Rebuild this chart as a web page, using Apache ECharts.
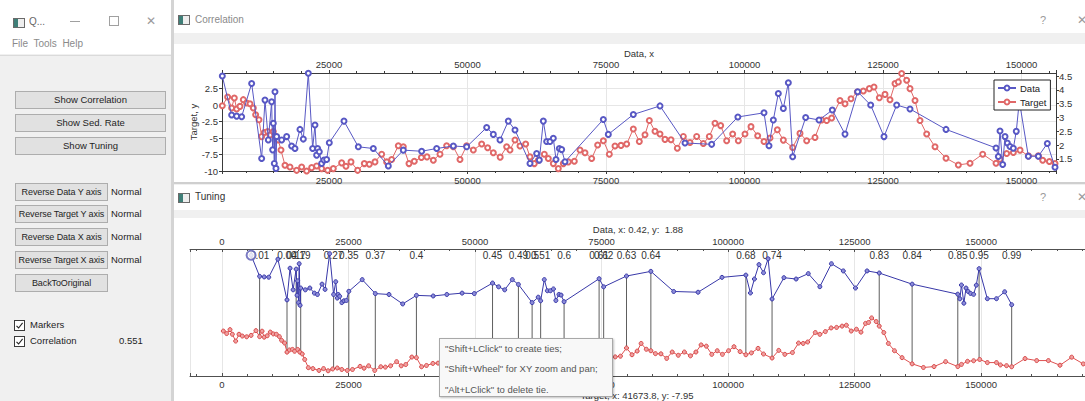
<!DOCTYPE html>
<html>
<head>
<meta charset="utf-8">
<title>Correlation / Tuning</title>
<script src="https://cdn.jsdelivr.net/npm/echarts@6.0.0/dist/echarts.min.js"></script>
<style>
  html, body { margin:0; padding:0; }
  body { width:1085px; height:401px; overflow:hidden; position:relative; background:#f0f0f0;
         font-family:"Liberation Sans", Arial, sans-serif; color:#1e1e1e; }
  .a { position:absolute; }
  .white { position:absolute; background:#fff; }
  .btn { position:absolute; box-sizing:border-box; background:#e1e1e1; border:1px solid #adadad;
         font-size:9.5px; text-align:center; color:#1e1e1e; white-space:nowrap; overflow:hidden; }
  .btn.narrow { font-size:9px; letter-spacing:-0.1px; }
  .lbl { position:absolute; font-size:9.5px; color:#1e1e1e; white-space:nowrap; line-height:12px; }
  .icon { position:absolute; width:10px; height:8px; border:1px solid #6a6a6a;
          background:linear-gradient(to right,#3f7f78 0,#3f7f78 45%,#eeeeee 45%); }
  .chk { position:absolute; width:9px; height:9px; border:1px solid #3a3a3a; background:#fff; }
  .chk svg { position:absolute; left:0; top:0; }
  .ctl { position:absolute; color:#9a9a9a; font-size:11px; line-height:12px; }
  #chart { position:absolute; left:0; top:0; width:1085px; height:401px; }
  #hint { position:absolute; left:439px; top:338px; width:174px; height:59px; box-sizing:border-box;
          background:#f8f8f8; border:1px solid #a8a8a8; box-shadow:1px 1px 2px rgba(0,0,0,0.25);
          font-size:9.5px; color:#555; z-index:5; }
  #hint div { position:absolute; left:5px; white-space:nowrap; line-height:12px; }
</style>
</head>
<body>

<!-- main window: title bar and menu -->
<div class="white" style="left:0;top:0;width:171px;height:54px;"></div>
<div class="icon" style="left:13px;top:18px;"></div>
<div class="lbl" style="left:29px;top:16px;color:#666;font-size:10px;">Q...</div>
<div class="a" style="left:70px;top:21px;width:10px;height:1px;background:#a0a0a0;"></div>
<div class="a" style="left:109px;top:16px;width:8px;height:8px;border:1px solid #a0a0a0;"></div>
<div class="ctl" style="left:146px;top:15px;font-size:12px;">✕</div>
<div class="lbl" style="left:12px;top:38px;color:#8a8a8a;font-size:10px;">File&nbsp; Tools&nbsp; Help</div>
<div class="a" style="left:0;top:55px;width:171px;height:1px;background:#dadada;"></div>

<!-- control panel -->
<div class="btn" style="left:15px;top:91px;width:151px;height:18px;line-height:16px;">Show Correlation</div>
<div class="btn" style="left:15px;top:114px;width:151px;height:18px;line-height:16px;">Show Sed. Rate</div>
<div class="btn" style="left:15px;top:137px;width:151px;height:18px;line-height:16px;">Show Tuning</div>

<div class="btn narrow" style="left:15px;top:183px;width:93px;height:18px;line-height:16px;">Reverse Data Y axis</div>
<div class="lbl" style="left:111px;top:186px;">Normal</div>
<div class="btn narrow" style="left:15px;top:205px;width:93px;height:18px;line-height:16px;">Reverse Target Y axis</div>
<div class="lbl" style="left:111px;top:208px;">Normal</div>
<div class="btn narrow" style="left:15px;top:228px;width:93px;height:18px;line-height:16px;">Reverse Data X axis</div>
<div class="lbl" style="left:111px;top:231px;">Normal</div>
<div class="btn narrow" style="left:15px;top:251px;width:93px;height:18px;line-height:16px;">Reverse Target X axis</div>
<div class="lbl" style="left:111px;top:254px;">Normal</div>
<div class="btn narrow" style="left:15px;top:274px;width:93px;height:18px;line-height:16px;">BackToOriginal</div>

<div class="chk" style="left:14px;top:320px;"><svg width="9" height="9"><path d="M1.5 4.8 L3.6 7 L7.6 1.8" fill="none" stroke="#222" stroke-width="1.1"/></svg></div>
<div class="lbl" style="left:30px;top:319px;">Markers</div>
<div class="chk" style="left:14px;top:336px;"><svg width="9" height="9"><path d="M1.5 4.8 L3.6 7 L7.6 1.8" fill="none" stroke="#222" stroke-width="1.1"/></svg></div>
<div class="lbl" style="left:30px;top:335px;">Correlation</div>
<div class="lbl" style="left:119px;top:335px;">0.551</div>

<!-- divider between panel and plot windows -->
<div class="a" style="left:171px;top:0;width:3px;height:401px;background:#d4d4d4;"></div>

<!-- Correlation window -->
<div class="white" style="left:174px;top:0;width:911px;height:33px;"></div>
<div class="icon" style="left:178px;top:15px;"></div>
<div class="lbl" style="left:195px;top:14px;color:#8a8a8a;font-size:10px;">Correlation</div>
<div class="ctl" style="left:1040px;top:14px;">?</div>
<div class="ctl" style="left:1077px;top:14px;font-size:12px;">✕</div>
<div class="white" style="left:174px;top:44px;width:911px;height:138px;"></div>
<div class="a" style="left:174px;top:182px;width:911px;height:2px;background:#cfcfcf;"></div>

<!-- Tuning window -->
<div class="white" style="left:174px;top:185px;width:911px;height:25px;"></div>
<div class="icon" style="left:178px;top:193px;"></div>
<div class="lbl" style="left:195px;top:191px;color:#333;font-size:10px;">Tuning</div>
<div class="ctl" style="left:1040px;top:191px;">?</div>
<div class="ctl" style="left:1077px;top:191px;font-size:12px;">✕</div>
<div class="white" style="left:174px;top:218px;width:911px;height:183px;"></div>

<div id="chart"></div>

<div id="hint">
  <div style="top:4px;">"Shift+LClick" to create ties;</div>
  <div style="top:24px;">"Shift+Wheel" for XY zoom and pan;</div>
  <div style="top:45px;">"Alt+LClick" to delete tie.</div>
</div>

<script>
// ---- core sample (Data) ----
const dataX = [5746, 7431, 8333, 9236, 11041, 12846, 13447, 14050, 14651, 14832, 14951, 15132, 15252,
  15432, 15553, 16456, 17358, 18261, 18862, 19765, 20366, 21269, 22051, 22472, 22773, 22953, 23254,
  23676, 24097, 24578, 25059, 27707, 30294, 33001, 35709, 38416, 41726, 44434, 47442, 49849, 53459,
  54662, 55865, 57369, 58572, 61280, 62483, 62964, 63686, 64288, 64890, 65491, 65973, 66574, 66996,
  67597, 74516, 75418, 79931, 84745, 89257, 94071, 98800, 103517, 104419, 105201, 106103, 107006,
  107909, 108691, 111036, 113444, 115851, 118137, 120424, 122771, 125177, 127464, 129870, 136368,
  145393, 145814, 146115, 146597, 147017, 147438, 147920, 148521, 149050, 149600, 151228, 153034,
  154655, 156042];
const dataY = [4.50, 3.09, 3.05, 3.03, 4.23, 1.52, 3.63, 2.19, 3.57, 1.83, 2.79, 1.34, 3.93,
  1.16, 2.31, 2.19, 2.31, 1.97, 1.88, 2.57, 2.22, 4.60, 1.88, 2.73, 1.64, 1.88, 1.76,
  1.34, 1.46, 1.48, 2.09, 2.87, 1.94, 1.88, 1.25, 1.82, 1.78, 1.88, 1.97, 1.94, 2.64,
  2.39, 2.19, 2.87, 2.55, 1.34, 1.70, 1.46, 2.87, 2.13, 2.13, 2.25, 1.48, 1.88, 1.84,
  1.40, 2.93, 2.39, 3.11, 3.42, 2.08, 2.03, 3.02, 3.17, 1.98, 2.91, 3.87, 3.33,
  4.26, 1.58, 3.00, 2.91, 3.27, 2.40, 3.93, 3.45, 2.31, 3.45, 3.31, 2.57,
  1.90, 1.59, 2.51, 1.30, 2.31, 2.08, 1.95, 1.89, 2.50, 3.60, 1.60, 1.60,
  2.06, 1.20];

// ---- reference record (Target) ----
const targetX = [260, 922, 1581, 2042, 2701, 3360, 4019, 4876, 5746, 6708, 7431, 7913, 8333, 8935,
  9537, 10139, 10740, 11342, 11763, 12365, 12846, 13328, 13929, 14350, 14952, 15373, 15854, 16336,
  17058, 17960, 19163, 20066, 20968, 21871, 22773, 23676, 24759, 25781, 27286, 28068, 28970, 30174,
  31377, 32280, 33302, 34506, 35408, 36311, 37514, 38416, 39439, 40402, 41673.8, 42688, 43831, 45034,
  46238, 47441, 48645, 49848, 51052, 52556, 53639, 54662, 55900, 57069, 57670, 58573, 59475, 60498,
  61280, 62062, 62784, 63867, 64589, 65491, 66394, 67297, 68199, 69282, 70305, 71208, 72411, 73494,
  74517, 75600, 76623, 77706, 78729, 79931, 81014, 82037, 82819, 83842, 84745, 85647, 86730, 87873,
  88956, 90159, 91363, 92566, 93649, 94672, 95695, 96778, 97861, 98884, 100087, 101170, 102374,
  103517, 104600, 105924, 107006, 108691, 110014, 111217, 112722, 113925, 114828, 115730, 117234,
  118137, 119220, 120363, 121446, 122529, 123371, 124334, 125357, 126259, 127162, 127764, 128365,
  129268, 129870, 130773, 131675, 132879, 134383, 136369, 138595, 140701, 142988, 145395, 146117,
  147320, 148524, 149727, 151231, 153036, 153818, 155022, 156045, 158680, 160985, 163290, 165590,
  167900, 170190];
const targetY = [1.1, 0.4, 1.5, 0.2, -1.7, 0.2, -0.3, -0.5, -0.11, 1.22, -0.46, 1.07, -0.61, -0.21,
  0.81, 0.30, 0.20, -0.46, -1.48, -2.24, -4.79, -4.18, -4.03, -4.54, -4.03, -4.79, -5.30, -6.83,
  -9.13, -9.39, -9.90, -9.39, -10.0, -9.49, -9.23, -9.64, -9.90, -9.64, -8.77, -9.28, -8.62, -9.90,
  -8.88, -8.98, -8.62, -7.45, -8.62, -8.26, -6.17, -6.33, -8.88, -8.52, -7.95, -7.86, -8.37, -7.45,
  -6.17, -6.33, -8.26, -6.17, -6.83, -5.92, -6.48, -7.24, -7.90, -6.33, -6.83, -5.30, -6.22, -5.92,
  -7.86, -8.88, -8.37, -7.45, -8.11, -8.88, -9.64, -8.88, -8.62, -8.52, -6.83, -7.24, -8.11, -6.07,
  -5.41, -7.45, -6.22, -6.12, -5.92, -3.63, -5.52, -4.50, -2.36, -3.99, -4.40, -5.21, -5.26, -6.54,
  -4.76, -5.67, -4.76, -5.83, -4.76, -2.77, -3.12, -5.41, -4.40, -5.41, -4.40, -3.28, -4.65,
  -5.52, -5.01, -3.74, -5.32, -6.44, -4.30, -5.41, -4.91, -2.26, -2.36, -1.96, 0.69,
  0.18, 0.95, 1.97, 2.12, 2.48, 2.73, 1.10, 1.61, 0.80, 3.24, 3.50, 4.77,
  3.75, 2.48, 0.69, -2.36, -4.40, -6.33, -8.06, -9.08, -8.83, -7.45, -8.83, -8.22,
  -7.35, -7.20, -6.84, -7.71, -7.71, -8.37, -8.57, -8.88, -6.59, -7.15, -7.15, -8.45,
  -6.20, -8.08];

// ---- tie points: data depth of each tie and its relative position ----
const tieX = [7431, 12846, 14651, 15553, 22051, 25059, 30294, 38416, 53459, 58572, 61280, 62964,
  67597, 74516, 75418, 79931, 84745, 103517, 108691, 129870, 136368, 145393, 149600, 156042];
const tieLabel = [0.01, 0.04, 0.17, 0.19, 0.27, 0.35, 0.37, 0.4, 0.45, 0.49, 0.5, 0.51,
  0.6, 0.61, 0.62, 0.63, 0.64, 0.68, 0.74, 0.83, 0.84, 0.85, 0.95, 0.99];

// readout under the cursor
const cursorData = { x: 0.42, y: 1.88 };
const cursorTargetX = 41673.8;

// ---- axis extents ----
const corrX = [5690, 156220];
const corrTargetY = [-10, 4.85];
const corrDataY = [1.066, 4.61];
const tuneX = [-6324, 170530];
const tuneDataY = [-3.55, 4.91];
const tuneTargetY = [-11.46, 24.03];

const FONT = '"Liberation Sans", Arial, sans-serif';
const pair = (xs, ys) => xs.map((x, i) => [x, ys[i]]);

// target value at a depth, read along the target polyline
function targetAt(x) {
  for (let i = 1; i < targetX.length; i++) {
    if (x <= targetX[i]) {
      const t = (x - targetX[i - 1]) / (targetX[i] - targetX[i - 1]);
      return targetY[i - 1] + t * (targetY[i] - targetY[i - 1]);
    }
  }
  return targetY[targetY.length - 1];
}
// express a target value on the data axis of the tuning panel (both axes share the grid)
function targetOnDataAxis(v) {
  return tuneDataY[0] + (v - tuneTargetY[0]) * (tuneDataY[1] - tuneDataY[0]) / (tuneTargetY[1] - tuneTargetY[0]);
}
const ties = tieX.map(x => {
  const j = dataX.indexOf(x);
  return [x, dataY[j], targetOnDataAxis(targetAt(x))];
});

const labelStyle = { color: '#333', fontSize: 9.5, fontFamily: FONT };
const plain = v => String(v);

function xAxis(gridIndex, position, range, split, lineColor) {
  return {
    gridIndex, type: 'value', position, min: range[0], max: range[1],
    minInterval: 25000, maxInterval: 25000,
    axisLine: { show: true, onZero: false, lineStyle: { color: lineColor, width: 1 } },
    axisTick: { show: true, inside: gridIndex === 1, length: 3, lineStyle: { color: lineColor } },
    minorTick: { show: true, splitNumber: 5, length: 2, lineStyle: { color: lineColor } },
    axisLabel: Object.assign({ margin: gridIndex === 1 ? 3 : 4, showMinLabel: false, showMaxLabel: false, formatter: plain }, labelStyle),
    splitLine: { show: split, lineStyle: { color: '#e6e6e6', width: 1 } },
    minorSplitLine: { show: false }
  };
}

const chart = echarts.init(document.getElementById('chart'), null, { renderer: 'svg', width: 1085, height: 401 });

chart.setOption({
  animation: false,
  backgroundColor: 'transparent',
  textStyle: { fontFamily: FONT },
  grid: [
    { left: 222, top: 73, width: 834, height: 98, outerBoundsMode: 'none', containLabel: false },
    { left: 190, top: 249, width: 895, height: 127, outerBoundsMode: 'none', containLabel: false }
  ],
  legend: {
    data: ['Data', 'Target'], left: 994, top: 80, orient: 'vertical', selectedMode: false,
    backgroundColor: '#fff', borderColor: '#222', borderWidth: 1, borderRadius: 0,
    padding: [3, 4, 3, 3], itemGap: 4, itemWidth: 18, itemHeight: 6,
    textStyle: { fontSize: 9.5, color: '#222', fontFamily: FONT, padding: [0, 0, 0, -1] }
  },
  xAxis: [
    xAxis(0, 'bottom', corrX, true, '#3a3a3a'),
    xAxis(0, 'top', corrX, false, '#3a3a3a'),
    xAxis(1, 'bottom', tuneX, true, '#505050'),
    xAxis(1, 'top', tuneX, false, '#505050')
  ],
  yAxis: [
    {
      gridIndex: 0, type: 'value', position: 'left', min: corrTargetY[0], max: corrTargetY[1],
      minInterval: 2.5, maxInterval: 2.5,
      name: 'Target, y', nameLocation: 'middle', nameGap: 24, nameRotate: 90, nameMoveOverlap: false,
      nameTextStyle: { color: '#333', fontSize: 9.5, fontFamily: FONT },
      axisLine: { show: true, onZero: false, lineStyle: { color: '#3a3a3a' } },
      axisTick: { show: true, length: 3, lineStyle: { color: '#3a3a3a' } },
      axisLabel: Object.assign({ margin: 4, showMaxLabel: false, formatter: plain }, labelStyle),
      splitLine: { show: true, lineStyle: { color: '#e6e6e6' } }
    },
    {
      gridIndex: 0, type: 'value', position: 'right', min: corrDataY[0], max: corrDataY[1],
      minInterval: 0.5, maxInterval: 0.5,
      name: 'Data, y', nameLocation: 'middle', nameGap: 35, nameRotate: -90, nameMoveOverlap: false,
      nameTextStyle: { color: '#333', fontSize: 9.5, fontFamily: FONT },
      axisLine: { show: true, onZero: false, lineStyle: { color: '#3a3a3a' } },
      axisTick: { show: true, length: 3, lineStyle: { color: '#3a3a3a' } },
      axisLabel: Object.assign({ margin: 3, showMinLabel: false, showMaxLabel: false, formatter: plain }, labelStyle),
      splitLine: { show: false }
    },
    { gridIndex: 1, type: 'value', min: tuneDataY[0], max: tuneDataY[1], show: false },
    { gridIndex: 1, type: 'value', min: tuneTargetY[0], max: tuneTargetY[1], show: false }
  ],
  graphic: [
    { type: 'text', x: 639, y: 53, style: { text: 'Data, x', fill: '#333', font: '9.5px ' + FONT, align: 'center', verticalAlign: 'middle' } },
    { type: 'text', x: 638, y: 229, style: { text: `Data, x: ${cursorData.x}, y:  ${cursorData.y}`, fill: '#333', font: '9.5px ' + FONT, align: 'center', verticalAlign: 'middle' } },
    { type: 'text', x: 637, y: 395, style: {
        text: `Target, x: ${cursorTargetX}, y: ${targetY[targetX.indexOf(cursorTargetX)]}`,
        fill: '#333', font: '9.5px ' + FONT, align: 'center', verticalAlign: 'middle' } }
  ],
  series: [
    // correlation panel
    {
      name: 'Target', type: 'line', xAxisIndex: 0, yAxisIndex: 0, data: pair(targetX, targetY),
      symbol: 'emptyCircle', symbolSize: 5, z: 2,
      lineStyle: { color: '#e06868', width: 1 }, itemStyle: { color: '#e06868', borderWidth: 1 }
    },
    {
      name: 'Data', type: 'line', xAxisIndex: 0, yAxisIndex: 1, data: pair(dataX, dataY),
      symbol: 'emptyCircle', symbolSize: 5, z: 3,
      lineStyle: { color: '#5858c4', width: 1 }, itemStyle: { color: '#5858c4', borderWidth: 1 }
    },
    // tuning panel: ties, then both records
    {
      name: 'ties', type: 'custom', xAxisIndex: 3, yAxisIndex: 2, data: ties, z: 1, clip: false,
      renderItem: (params, api) => {
        const p0 = api.coord([api.value(0), api.value(1)]);
        const p1 = api.coord([api.value(0), api.value(2)]);
        return {
          type: 'group', children: [
            { type: 'line', shape: { x1: p0[0], y1: p0[1], x2: p1[0], y2: p1[1] },
              style: { stroke: '#5e5e5e', lineWidth: 1 } },
            { type: 'text', x: p0[0], y: params.coordSys.y + 1,
              style: { text: String(tieLabel[params.dataIndex]), fill: '#333', font: '10px ' + FONT, align: 'center', verticalAlign: 'top' } }
          ]
        };
      }
    },
    {
      name: 'tunedTarget', type: 'line', xAxisIndex: 2, yAxisIndex: 3, data: pair(targetX, targetY),
      symbol: 'circle', symbolSize: 4, z: 2,
      lineStyle: { color: '#de5050', width: 1 }, itemStyle: { color: '#f0a0a0', borderColor: '#d84848', borderWidth: 1 }
    },
    {
      name: 'tunedData', type: 'line', xAxisIndex: 3, yAxisIndex: 2, data: pair(dataX, dataY),
      symbol: 'circle', symbolSize: 4, z: 3,
      lineStyle: { color: '#3838a8', width: 1 }, itemStyle: { color: '#8c8cd8', borderColor: '#3838a8', borderWidth: 1 }
    },
    {
      name: 'selected', type: 'scatter', xAxisIndex: 3, yAxisIndex: 2, data: [[dataX[0], dataY[0]]],
      symbol: 'emptyCircle', symbolSize: 9, z: 4, itemStyle: { color: '#5a5ab4', borderWidth: 1.2 }
    }
  ]
});
</script>
</body>
</html>
